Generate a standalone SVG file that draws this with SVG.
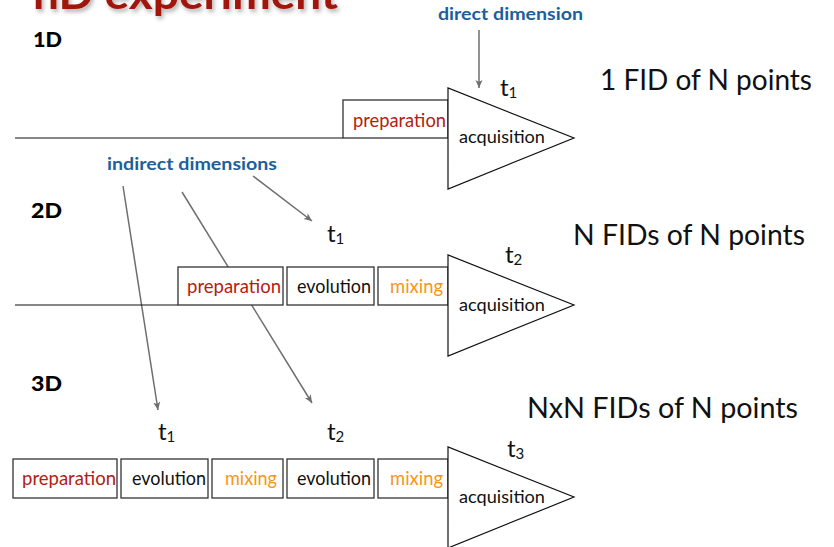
<svg xmlns="http://www.w3.org/2000/svg" width="834" height="547" viewBox="0 0 834 547">
  <defs>
    <marker id="ah" markerWidth="10" markerHeight="10" refX="9" refY="5" orient="auto" markerUnits="userSpaceOnUse">
      <path d="M1,1.5 L9,5 L1,8.5 L3,5 Z" fill="#6e6e6e"/>
    </marker>
    <filter id="sh" x="-10%" y="-50%" width="120%" height="200%">
      <feDropShadow dx="2" dy="3" stdDeviation="2" flood-color="#000" flood-opacity="0.3"/>
    </filter>
  </defs>
  <style>
    text { font-family: Lato, "Open Sans", "Liberation Sans", sans-serif; }
    .title { font-size: 42px; font-weight: bold; fill: #a0190c; }
    .dim { font-size: 20px; font-weight: 900; fill: #000; }
    .blue { font-size: 17.5px; font-weight: bold; fill: #1c5f9c; }
    .box { fill: #fff; stroke: #333; stroke-width: 1.3; }
    .tri { fill: #fff; stroke: #111; stroke-width: 1.2; }
    .base { stroke: #111; stroke-width: 1.2; fill: none; }
    .lbl { font-size: 19px; }
    .prep { fill: #b3200f; }
    .evo { fill: #111; }
    .mix { fill: #f7941d; }
    .acq { font-size: 18px; fill: #111; }
    .t { font-size: 24px; fill: #111; }
    .sub { font-size: 15px; }
    .fid { font-size: 28px; fill: #111; }
    .conn { stroke: #6e6e6e; stroke-width: 1.5; fill: none; marker-end: url(#ah); }
  </style>

  <g id="title">
    <text class="title" x="33" y="9" textLength="305" lengthAdjust="spacingAndGlyphs" filter="url(#sh)">nD experiment</text>
  </g>

  <g id="labels">
    <text class="dim" x="33" y="47" textLength="29" lengthAdjust="spacingAndGlyphs">1D</text>
    <text class="dim" x="31" y="218" textLength="31" lengthAdjust="spacingAndGlyphs">2D</text>
    <text class="dim" x="31" y="391" textLength="31" lengthAdjust="spacingAndGlyphs">3D</text>
    <text class="blue" x="438" y="20" textLength="145" lengthAdjust="spacingAndGlyphs">direct dimension</text>
    <text class="blue" x="107" y="170" textLength="170" lengthAdjust="spacingAndGlyphs">indirect dimensions</text>
    <text class="fid" x="600" y="90" textLength="212" lengthAdjust="spacingAndGlyphs">1 FID of N points</text>
    <text class="fid" x="573" y="245" textLength="232" lengthAdjust="spacingAndGlyphs">N FIDs of N points</text>
    <text class="fid" x="527" y="418" textLength="271" lengthAdjust="spacingAndGlyphs">NxN FIDs of N points</text>
  </g>

  <g id="connectors">
    <line class="conn" x1="479" y1="30" x2="479" y2="88"/>
    <line class="conn" x1="253" y1="176" x2="312" y2="221"/>
    <line class="conn" x1="123" y1="186" x2="158" y2="410"/>
    <line class="conn" x1="182" y1="192" x2="312" y2="403"/>
  </g>

  <g id="row1D">
    <line class="base" x1="15" y1="138" x2="343" y2="138"/>
    <g id="prep1">
      <rect class="box" x="343" y="100" width="105" height="38"/>
      <text class="lbl prep" x="353" y="127" textLength="93" lengthAdjust="spacingAndGlyphs">preparation</text>
    </g>
    <g id="acq1">
      <polygon class="tri" points="448,88 448,189 574,138"/>
      <text class="acq" x="459" y="143" textLength="86" lengthAdjust="spacingAndGlyphs">acquisition</text>
    </g>
    <text class="t" x="500" y="96">t<tspan class="sub" dy="2">1</tspan></text>
  </g>

  <g id="row2D">
    <line class="base" x1="15" y1="305" x2="178" y2="305"/>
    <g id="prep2">
      <rect class="box" x="178" y="267" width="105" height="38"/>
      <text class="lbl prep" x="187" y="293" textLength="94" lengthAdjust="spacingAndGlyphs">preparation</text>
    </g>
    <g id="evo2">
      <rect class="box" x="287" y="267" width="87" height="38"/>
      <text class="lbl evo" x="297" y="293" textLength="74" lengthAdjust="spacingAndGlyphs">evolution</text>
    </g>
    <g id="mix2">
      <rect class="box" x="378" y="267" width="70" height="38"/>
      <text class="lbl mix" x="390" y="293" textLength="53" lengthAdjust="spacingAndGlyphs">mixing</text>
    </g>
    <g id="acq2">
      <polygon class="tri" points="448,255 448,356 574,305"/>
      <text class="acq" x="459" y="311" textLength="86" lengthAdjust="spacingAndGlyphs">acquisition</text>
    </g>
    <text class="t" x="327" y="242">t<tspan class="sub" dy="2">1</tspan></text>
    <text class="t" x="505" y="263">t<tspan class="sub" dy="2">2</tspan></text>
  </g>

  <g id="row3D">
    <g id="prep3">
      <rect class="box" x="13" y="459" width="104" height="39"/>
      <text class="lbl prep" x="22" y="485" textLength="94" lengthAdjust="spacingAndGlyphs">preparation</text>
    </g>
    <g id="evo3a">
      <rect class="box" x="121" y="459" width="87" height="39"/>
      <text class="lbl evo" x="132" y="485" textLength="74" lengthAdjust="spacingAndGlyphs">evolution</text>
    </g>
    <g id="mix3a">
      <rect class="box" x="212" y="459" width="71" height="39"/>
      <text class="lbl mix" x="225" y="485" textLength="52" lengthAdjust="spacingAndGlyphs">mixing</text>
    </g>
    <g id="evo3b">
      <rect class="box" x="287" y="459" width="87" height="39"/>
      <text class="lbl evo" x="297" y="485" textLength="74" lengthAdjust="spacingAndGlyphs">evolution</text>
    </g>
    <g id="mix3b">
      <rect class="box" x="378" y="459" width="70" height="39"/>
      <text class="lbl mix" x="390" y="485" textLength="53" lengthAdjust="spacingAndGlyphs">mixing</text>
    </g>
    <g id="acq3">
      <polygon class="tri" points="448,447 448,548 574,497"/>
      <text class="acq" x="459" y="503" textLength="86" lengthAdjust="spacingAndGlyphs">acquisition</text>
    </g>
    <text class="t" x="158" y="440">t<tspan class="sub" dy="2">1</tspan></text>
    <text class="t" x="327" y="440">t<tspan class="sub" dy="2">2</tspan></text>
    <text class="t" x="507" y="457">t<tspan class="sub" dy="2">3</tspan></text>
  </g>
</svg>
